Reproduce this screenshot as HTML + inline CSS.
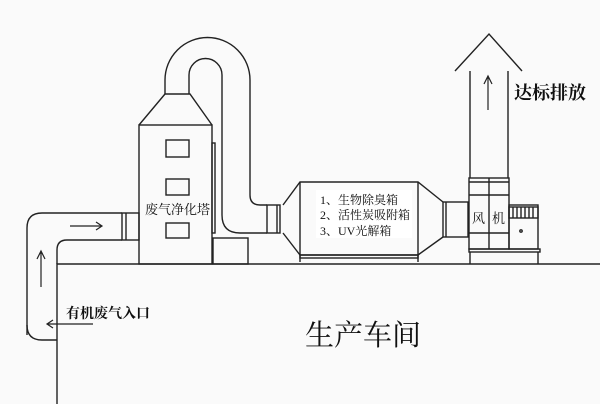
<!DOCTYPE html>
<html><head><meta charset="utf-8"><style>
html,body{margin:0;padding:0;background:#fafafa;}
svg{display:block;}
text{font-family:"Liberation Serif","Noto Serif CJK SC","Noto Sans CJK SC",serif;fill:#111;}
</style></head><body>
<svg width="600" height="404" viewBox="0 0 600 404" xmlns="http://www.w3.org/2000/svg">
<rect width="600" height="404" fill="#fafafa"/>
<g fill="none" stroke="#222" stroke-width="1.4">
<path d="M57 404 V264 H600"/>
<path d="M27 335 V228 Q27 213 42 213 H122"/>
<path d="M27 325 Q27 340 42 340 H57"/>
<path d="M57 264 V250 Q57 240 67 240 H122"/>
<rect x="122" y="213" width="17" height="27"/>
<line x1="126" y1="213" x2="126" y2="240"/>
<rect x="139" y="125" width="73" height="139"/>
<path d="M139 125 L165 94 H190 L212 125"/>
<rect x="212" y="143" width="3" height="90"/>
<rect x="166" y="140" width="23" height="17"/>
<rect x="166" y="179" width="23" height="16"/>
<rect x="166" y="223" width="23" height="15"/>
<rect x="213" y="238" width="35" height="26"/>
<path d="M165 94 V80 A42 42 0 0 1 250 80 V195 Q250 205 260 205 H267"/>
<path d="M189 94 V75 A16.5 16.5 0 0 1 222 75 V215 Q222 233 240 233 H267"/>
<rect x="267" y="205" width="13" height="28"/>
<line x1="277" y1="205" x2="277" y2="233"/>
<path d="M283 205 L300 182 H418 L443 202"/>
<path d="M283 233 L300 255 H418 L443 237"/>
<line x1="300" y1="182" x2="300" y2="262"/>
<line x1="418" y1="182" x2="418" y2="262"/>
<rect x="300" y="255" width="118" height="3"/>
<rect x="443" y="202" width="25" height="35"/>
<line x1="446" y1="202" x2="446" y2="237"/>
<rect x="469" y="178" width="40" height="71"/>
<line x1="469" y1="182" x2="509" y2="182"/>
<line x1="469" y1="195" x2="509" y2="195"/>
<line x1="469" y1="233" x2="509" y2="233"/>
<line x1="489" y1="178" x2="489" y2="249"/>
<rect x="469" y="249" width="71" height="3"/>
<line x1="470" y1="252" x2="470" y2="264"/>
<line x1="538" y1="252" x2="538" y2="264"/>
<rect x="509" y="205" width="29" height="44"/>
<rect x="509" y="207" width="29" height="11"/>
<path d="M513 207V218M517 207V218M521 207V218M525 207V218M529 207V218M533 207V218"/>
<circle cx="521" cy="231" r="1.2"/>
<line x1="470" y1="71" x2="470" y2="178"/>
<line x1="508" y1="71" x2="508" y2="178"/>
<path d="M455 71 L489 34 L522 71"/>
<path d="M488 110 V76 M484 84 L488 76 L492 84" stroke-width="1.2"/>
<path d="M70 226 H102 M96 222 L102 226 L96 230" stroke-width="1.2"/>
<path d="M41 287 V251 M37 259 L41 251 L45 259" stroke-width="1.2"/>
<path d="M93 324 H47 M53 320 L47 324 L53 328" stroke-width="1.2"/>
</g>
<rect x="316" y="190" width="96" height="48" fill="#fff"/>
<text x="320" y="204" font-size="12">1、生物除臭箱</text>
<text x="320" y="219" font-size="12">2、活性炭吸附箱</text>
<text x="320" y="235" font-size="12">3、UV光解箱</text>
<text x="145" y="214" font-size="13">废气净化塔</text>
<text x="472" y="223" font-size="13">风</text>
<text x="492" y="223" font-size="13">机</text>
<text x="514" y="99" font-size="18" font-weight="bold">达标排放</text>
<text x="66" y="318" font-size="14" font-weight="bold">有机废气入口</text>
<text x="305" y="345" font-size="29">生产车间</text>
</svg>
</body></html>
